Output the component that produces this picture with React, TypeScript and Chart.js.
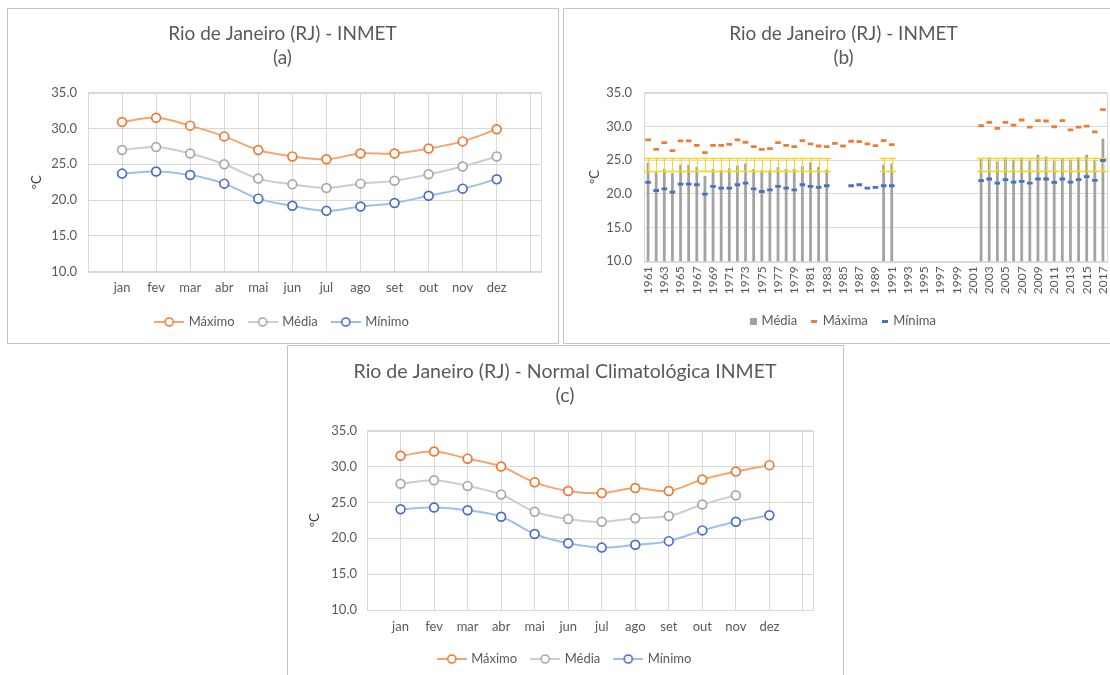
import React, { useEffect, useRef } from 'react';
import { Chart, registerables } from 'chart.js';

Chart.register(...registerables);

// ---------- DATA ----------
const months = ['jan', 'fev', 'mar', 'abr', 'mai', 'jun', 'jul', 'ago', 'set', 'out', 'nov', 'dez'];

// (a) INMET monthly
const maxA = [30.9, 31.5, 30.4, 28.9, 27.0, 26.1, 25.7, 26.5, 26.5, 27.2, 28.2, 29.9];
const medA = [27.0, 27.4, 26.5, 25.0, 23.0, 22.2, 21.7, 22.3, 22.7, 23.6, 24.7, 26.1];
const minA = [23.7, 24.0, 23.5, 22.3, 20.2, 19.2, 18.5, 19.1, 19.6, 20.6, 21.6, 22.9];

// (c) Normal Climatológica INMET
const maxC = [31.5, 32.1, 31.1, 30.0, 27.8, 26.6, 26.3, 27.0, 26.6, 28.2, 29.3, 30.2];
const medC = [27.6, 28.1, 27.3, 26.1, 23.7, 22.7, 22.3, 22.8, 23.1, 24.7, 26.0, null];
const minC = [24.05, 24.3, 23.9, 23.0, 20.6, 19.3, 18.7, 19.1, 19.6, 21.1, 22.3, 23.2];

// (b) yearly series
const years = [
  '1961', '1962', '1963', '1964', '1965', '1966', '1967', '1968', '1969', '1970',
  '1971', '1972', '1973', '1974', '1975', '1976', '1977', '1978', '1979', '1980',
  '1981', '1982', '1983', '1984', '1985', '1986', '1987', '1988', '1989', '1990',
  '1991', '1992', '1993', '1994', '1995', '1996', '1997', '1998', '1999', '2000',
  '2001', '2002', '2003', '2004', '2005', '2006', '2007', '2008', '2009', '2010',
  '2011', '2012', '2013', '2014', '2015', '2016', '2017',
];
const mediaB = [
  24.6, 23.2, 23.7, 23.1, 24.3, 24.3, 24.0, 22.7, 23.7, 23.5,
  23.8, 24.2, 24.5, 23.7, 23.5, 23.5, 24.0, 23.7, 23.7, 24.1,
  24.7, 24.0, 23.6, null, null, null, null, null, null, 24.3,
  24.5, null, null, null, null, null, null, null, null, null,
  null, 25.3, 25.4, 24.8, 25.4, 25.0, 25.4, 24.9, 25.8, 25.5,
  24.9, 25.3, 25.0, 25.4, 25.8, 25.0, 28.2,
];
const maximaB = [
  28.0, 26.6, 27.6, 26.4, 27.85, 27.85, 27.2, 26.1, 27.2, 27.2,
  27.35, 28.0, 27.65, 27.0, 26.6, 26.7, 27.6, 27.2, 27.0, 27.9,
  27.4, 27.1, 27.0, 27.5, 27.1, 27.8, 27.75, 27.4, 27.15, 27.9,
  27.3, null, null, null, null, null, null, null, null, null,
  null, 30.1, 30.6, 29.7, 30.6, 30.2, 30.95, 29.9, 30.85, 30.8,
  29.95, 30.85, 29.5, 29.9, 30.05, 29.2, 32.5,
];
const minimaB = [
  21.7, 20.5, 20.75, 20.25, 21.45, 21.45, 21.35, 19.95, 21.1, 20.85,
  20.85, 21.35, 21.6, 20.75, 20.35, 20.6, 21.1, 20.85, 20.6, 21.35,
  21.1, 20.95, 21.2, null, null, 21.2, 21.35, 20.85, 20.95, 21.2,
  21.2, null, null, null, null, null, null, null, null, null,
  null, 21.95, 22.2, 21.6, 22.1, 21.75, 21.85, 21.6, 22.2, 22.2,
  21.7, 22.2, 21.75, 22.1, 22.55, 22.0, 24.95,
];
const bandLowB = 23.45;
const bandHighB = 25.35;

const yTicks = { min: 10, max: 35, step: 5 };

// ---------- STYLE ----------
const FONT = "Lato, 'Open Sans', sans-serif";
const TEXT = '#595959';
const GRID = '#d9d9d9';
const PANEL_BORDER = '#c4c4c4';

const frame = {
  id: 'frame',
  beforeDatasetsDraw(chart: any) {
    const { ctx, chartArea: a } = chart;
    ctx.save();
    ctx.strokeStyle = GRID;
    ctx.lineWidth = 1;
    ctx.strokeRect(Math.round(a.left) + 0.5, Math.round(a.top) + 0.5, Math.round(a.right - a.left), Math.round(a.bottom - a.top));
    ctx.restore();
  },
};

function lineIcon(line: string, mark: string) {
  const c = document.createElement('canvas');
  c.width = 30;
  c.height = 12;
  const g = c.getContext('2d')!;
  g.strokeStyle = line;
  g.lineWidth = 2;
  g.beginPath();
  g.moveTo(0, 6);
  g.lineTo(30, 6);
  g.stroke();
  g.beginPath();
  g.arc(15, 6, 4, 0, Math.PI * 2);
  g.fillStyle = '#fff';
  g.fill();
  g.strokeStyle = mark;
  g.lineWidth = 1.6;
  g.stroke();
  return c;
}

function blockIcon(color: string, w: number, h: number) {
  const c = document.createElement('canvas');
  c.width = w;
  c.height = h;
  const g = c.getContext('2d')!;
  g.fillStyle = color;
  g.fillRect(0, 0, w, h);
  return c;
}

const yScale = (L: any) => ({
  min: yTicks.min,
  max: yTicks.max,
  afterFit: (s: any) => {
    s.width = L.yAxisW;
  },
  grid: { color: GRID, drawTicks: false },
  border: { color: GRID },
  ticks: {
    stepSize: yTicks.step,
    padding: L.yTickPad,
    color: TEXT,
    font: { family: FONT, size: 13 },
    callback: (v: any) => Number(v).toFixed(1),
  },
  title: {
    display: true,
    text: 'ºC',
    color: '#404040',
    font: { family: FONT, size: 13 },
    padding: { top: L.yTitlePad, bottom: 0 },
  },
});

const titleOpts = (text: string[], L: any) => ({
  display: true,
  text,
  color: TEXT,
  font: { family: FONT, size: L.titleSize || 19, weight: 'normal' as const, lineHeight: 24 / (L.titleSize || 19) },
  padding: { top: L.titleTop, bottom: L.titleBottom },
});

// ---------- MONTHLY LINE CHART ----------
function MonthlyChart({ box, title, max, med, min, L }: any) {
  const ref = useRef<HTMLCanvasElement>(null);
  useEffect(() => {
    const series = [
      { label: 'Máximo', values: max, line: '#f4a672', mark: '#ec7a35' },
      { label: 'Média', values: med, line: '#cdcdcd', mark: '#a8a8a8' },
      { label: 'Mínimo', values: min, line: '#9dc0e8', mark: '#4a6cc6' },
    ];
    const icons = series.map((s) => lineIcon(s.line, s.mark));
    const tickPos: number[] = Array.from({ length: months.length + 2 }, (_, i) => i);
    tickPos.push(L.xMax);
    const chart = new Chart(ref.current!, {
      type: 'line',
      data: {
        datasets: series.map((s) => ({
          label: s.label,
          data: s.values.map((v: number | null, i: number) => ({ x: i + 1, y: v })),
          borderColor: s.line,
          borderWidth: 2,
          tension: 0.35,
          pointRadius: 4.4,
          pointHoverRadius: 4.4,
          pointBorderWidth: 1.7,
          pointBorderColor: s.mark,
          pointBackgroundColor: '#ffffff',
          fill: false,
        })),
      },
      options: {
        responsive: false,
        animation: false,
        devicePixelRatio: 1,
        events: [],
        layout: { padding: { left: L.padSide, right: L.padSide, top: 0, bottom: L.padBottom } },
        plugins: {
          title: titleOpts(title, L),
          legend: {
            position: 'bottom',
            labels: {
              usePointStyle: true,
              pointStyleWidth: 26,
              padding: 15,
              color: TEXT,
              font: { family: FONT, size: 13 },
              generateLabels: () =>
                series.map((s, i) => ({
                  text: s.label,
                  pointStyle: icons[i] as any,
                  fontColor: TEXT,
                  hidden: false,
                  datasetIndex: i,
                  lineWidth: 0,
                  strokeStyle: 'rgba(0,0,0,0)',
                  fillStyle: 'rgba(0,0,0,0)',
                })),
            },
          },
          tooltip: { enabled: false },
        },
        scales: {
          x: {
            type: 'linear',
            min: 0,
            max: L.xMax,
            afterBuildTicks: (s: any) => {
              s.ticks = tickPos.map((v) => ({ value: v }));
            },
            afterFit: (s: any) => {
              s.height = L.xAxisH;
            },
            grid: { color: GRID, drawTicks: false },
            border: { color: GRID },
            ticks: {
              autoSkip: false,
              maxRotation: 0,
              padding: L.xTickPad,
              color: TEXT,
              font: { family: FONT, size: 13 },
              callback: (v: any) =>
                Number.isInteger(v) && v >= 1 && v <= months.length ? months[v - 1] : '',
            },
          },
          y: yScale(L) as any,
        },
      },
      plugins: [frame],
    });
    return () => chart.destroy();
  }, []);
  return (
    <canvas
      ref={ref}
      width={box.w}
      height={box.h}
      style={{ position: 'absolute', left: box.x, top: box.y, width: box.w, height: box.h }}
    />
  );
}

// ---------- YEARLY CHART (b) ----------
function YearlyChart({ box, L }: any) {
  const ref = useRef<HTMLCanvasElement>(null);
  useEffect(() => {
    const errorBars = {
      id: 'errorBars',
      afterDatasetDraw(chart: any, args: any) {
        if (args.index !== 0) return;
        const xs = chart.scales.x;
        const ys = chart.scales.y;
        const ctx = chart.ctx;
        const half = (xs.getPixelForValue(1) - xs.getPixelForValue(0)) / 2;
        const yt = Math.round(ys.getPixelForValue(bandHighB)) + 0.5;
        const yb = Math.round(ys.getPixelForValue(bandLowB)) + 0.5;
        ctx.save();
        ctx.strokeStyle = '#f6d41c';
        mediaB.forEach((v, i) => {
          if (v == null) return;
          const cx = xs.getPixelForValue(i);
          ctx.lineWidth = 1.5;
          ctx.beginPath();
          ctx.moveTo(cx - half, yt);
          ctx.lineTo(cx + half, yt);
          ctx.moveTo(cx - half, yb);
          ctx.lineTo(cx + half, yb);
          ctx.stroke();
          ctx.lineWidth = 1;
          ctx.beginPath();
          ctx.moveTo(Math.round(cx) + 0.5, yt);
          ctx.lineTo(Math.round(cx) + 0.5, yb);
          ctx.stroke();
        });
        ctx.restore();
      },
    };
    const legendIcons = [
      blockIcon('#a0a0a0', 7, 7),
      blockIcon('#ed7d31', 6, 3),
      blockIcon('#4472c4', 6, 3),
    ];
    const labelsText = ['Média', 'Máxima', 'Mínima'];
    const chart = new Chart(ref.current!, {
      type: 'bar',
      data: {
        labels: years,
        datasets: [
          {
            type: 'bar',
            label: 'Média',
            data: mediaB,
            backgroundColor: '#a3a3a3',
            barPercentage: 0.34,
            categoryPercentage: 1,
            order: 2,
          } as any,
          {
            type: 'line',
            label: 'Máxima',
            data: maximaB,
            showLine: false,
            pointStyle: 'line',
            pointRadius: 2.8,
            pointHoverRadius: 2.8,
            pointBorderWidth: 2.8,
            borderColor: '#ed7d31',
            pointBorderColor: '#ed7d31',
            order: 0,
          },
          {
            type: 'line',
            label: 'Mínima',
            data: minimaB,
            showLine: false,
            pointStyle: 'line',
            pointRadius: 2.8,
            pointHoverRadius: 2.8,
            pointBorderWidth: 2.8,
            borderColor: '#4472c4',
            pointBorderColor: '#4472c4',
            order: 0,
          },
        ],
      },
      options: {
        responsive: false,
        animation: false,
        devicePixelRatio: 1,
        events: [],
        layout: { padding: { left: L.padSide, right: L.padSide, top: 0, bottom: L.padBottom } },
        plugins: {
          title: titleOpts(['Rio de Janeiro (RJ) - INMET', '(b)'], L),
          legend: {
            position: 'bottom',
            labels: {
              usePointStyle: true,
              pointStyleWidth: 4,
              padding: 15,
              color: TEXT,
              font: { family: FONT, size: 13 },
              generateLabels: () =>
                labelsText.map((t, i) => ({
                  text: t,
                  pointStyle: legendIcons[i] as any,
                  fontColor: TEXT,
                  hidden: false,
                  datasetIndex: i,
                  lineWidth: 0,
                  strokeStyle: 'rgba(0,0,0,0)',
                  fillStyle: 'rgba(0,0,0,0)',
                })),
            },
          },
          tooltip: { enabled: false },
        },
        scales: {
          x: {
            type: 'category',
            offset: true,
            afterFit: (s: any) => {
              s.height = L.xAxisH;
            },
            grid: { display: false, drawTicks: false },
            border: { color: GRID },
            ticks: {
              autoSkip: false,
              minRotation: 90,
              maxRotation: 90,
              padding: L.xTickPad,
              color: TEXT,
              font: { family: FONT, size: 12 },
              callback: (_v: any, i: number) => (i % 2 === 0 ? years[i] : ''),
            },
          },
          y: yScale(L) as any,
        },
      },
      plugins: [frame, errorBars],
    });
    return () => chart.destroy();
  }, []);
  return (
    <canvas
      ref={ref}
      width={box.w}
      height={box.h}
      style={{ position: 'absolute', left: box.x, top: box.y, width: box.w, height: box.h }}
    />
  );
}

// ---------- APP ----------
export default function App() {
  const panel = (x: number, y: number, w: number, h: number) => (
    <div
      style={{
        position: 'absolute',
        left: x,
        top: y,
        width: w,
        height: h,
        border: `1px solid ${PANEL_BORDER}`,
        boxSizing: 'border-box',
      }}
    />
  );
  const layoutA = {
    padSide: 16, yAxisW: 64, padBottom: 3.5, xAxisH: 28.8, xTickPad: 8.5, yTickPad: 11,
    yTitlePad: 5, titleTop: 13, titleBottom: 22.7, xMax: 13.3,
  };
  const layoutC = {
    padSide: 29, yAxisW: 50, padBottom: 1.5, xAxisH: 27.5, xTickPad: 8.9, yTickPad: 10,
    yTitlePad: -10, titleTop: 14, titleBottom: 22.7, xMax: 13.3, titleSize: 19.5,
  };
  const layoutB = {
    padSide: 16, yAxisW: 64, padBottom: 4.5, xAxisH: 38.2, xTickPad: 5, yTickPad: 12,
    yTitlePad: 7, titleTop: 13, titleBottom: 22.7,
  };
  return (
    <div
      style={{
        position: 'fixed',
        left: 0,
        top: 0,
        width: 1110,
        height: 675,
        overflow: 'hidden',
        background: '#ffffff',
      }}
    >
      {panel(7, 8, 552, 336)}
      {panel(563, 8, 562, 336)}
      {panel(287, 345, 557, 340)}
      <MonthlyChart
        box={{ x: 8, y: 9, w: 549, h: 333 }}
        title={['Rio de Janeiro (RJ) - INMET', '(a)']}
        max={maxA}
        med={medA}
        min={minA}
        L={layoutA}
      />
      <YearlyChart box={{ x: 564, y: 9, w: 559, h: 333 }} L={layoutB} />
      <MonthlyChart
        box={{ x: 288, y: 346, w: 554, h: 331 }}
        title={['Rio de Janeiro (RJ) - Normal Climatológica INMET', '(c)']}
        max={maxC}
        med={medC}
        min={minC}
        L={layoutC}
      />
    </div>
  );
}
